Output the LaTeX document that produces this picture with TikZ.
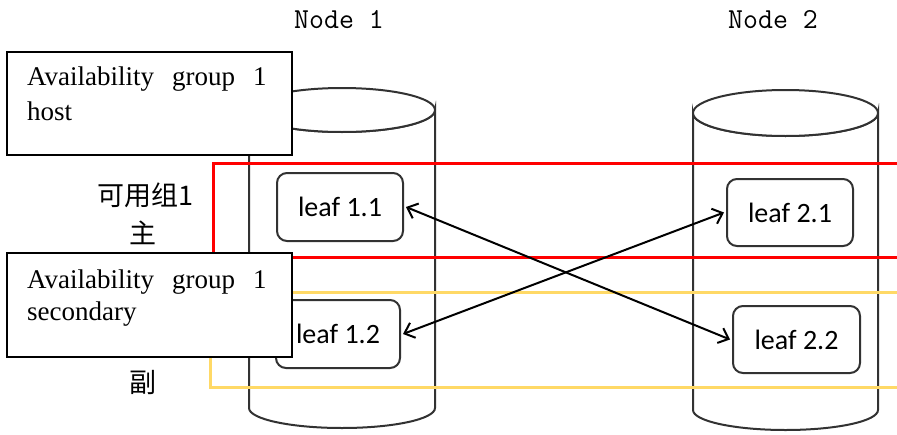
\documentclass[tikz,border=0pt]{standalone}
\usepackage{fontspec}
\setmainfont{Liberation Serif}
\newfontfamily\leaffont{Carlito}
\newfontfamily\cjkfont{Noto Sans CJK SC}
\usetikzlibrary{arrows.meta}
\definecolor{agyellow}{RGB}{255,217,102}
\definecolor{cylgray}{RGB}{50,50,50}
\tikzset{
  cyl/.style={draw=cylgray, line width=2pt, fill=white},
  leafbox/.style={draw=cylgray, line width=2pt, rounded corners=10pt, fill=white,
    inner sep=0pt, outer sep=3pt, font=\leaffont\fontsize{28}{30}\selectfont},
  agbox/.style={draw=black, line width=2pt, fill=white, inner sep=0pt},
  agtext/.style={anchor=base west, inner sep=0pt, font=\fontsize{27}{30}\selectfont},
  cjktext/.style={inner sep=0pt, font=\cjkfont\fontsize{27}{30}\selectfont},
  nodelab/.style={inner sep=0pt, font=\ttfamily\fontsize{29}{32}\selectfont},
  link/.style={line width=2pt, {Straight Barb[length=9pt,width=16pt]}-{Straight Barb[length=9pt,width=16pt]}},
  redgroup/.style={draw=red, line width=3pt},
  yellowgroup/.style={draw=agyellow, line width=3pt}
}
\begin{document}
\begin{tikzpicture}[x=1pt,y=-1pt]
\useasboundingbox (0,0) rectangle (897,434);
% cylinder 1
\path[cyl] (249,110) -- (249,408) arc[start angle=180,end angle=0,x radius=93,y radius=20] -- (435,110) arc[start angle=0,end angle=180,x radius=93,y radius=22] -- cycle;
\draw[cyl] (342,110) ellipse[x radius=93,y radius=22];
% cylinder 2
\path[cyl] (693,113) -- (693,410) arc[start angle=180,end angle=0,x radius=92.5,y radius=20] -- (878,113) arc[start angle=0,end angle=180,x radius=92.5,y radius=23] -- cycle;
\draw[cyl] (785.5,113) ellipse[x radius=92.5,y radius=23];
% group frames
\draw[redgroup] (897,163) -| (213,257) -- (897,257);
\draw[yellowgroup] (897,292) -| (210,387) -- (897,387);
% leaves
\node[leafbox, minimum width=126pt, minimum height=68pt] (l11) at (340,207) {leaf 1.1};
\node[leafbox, minimum width=124pt, minimum height=68pt] (l12) at (338,334) {leaf 1.2};
\node[leafbox, minimum width=126pt, minimum height=67pt] (l21) at (790,212.5) {leaf 2.1};
\node[leafbox, minimum width=127pt, minimum height=67pt] (l22) at (796.5,339.5) {leaf 2.2};
% links
\draw[link] (l11.east) -- (l22.west);
\draw[link] (l12.east) -- (l21.west);
% node labels
\node[nodelab] (n1) at (339,20) {Node 1};
\node[nodelab] (n2) at (773,20) {Node 2};
% chinese labels
\node[cjktext] (c1) at (145,195) {可用组1};
\node[cjktext] (c2) at (143,233) {主};
\node[cjktext] (c3) at (143,383) {副};
% availability boxes
\node[agbox, minimum width=285pt, minimum height=103pt] (host) at (149.5,103.5) {};
\node[agtext] (host1) at (27,85) {Availability\hspace{18pt}group\hspace{18pt}1};
\node[agtext] (host2) at (27,120) {host};
\node[agbox, minimum width=285pt, minimum height=104pt] (sec) at (149.5,305) {};
\node[agtext] (sec1) at (27,288) {Availability\hspace{18pt}group\hspace{18pt}1};
\node[agtext] (sec2) at (27,320) {secondary};
\end{tikzpicture}
\end{document}
